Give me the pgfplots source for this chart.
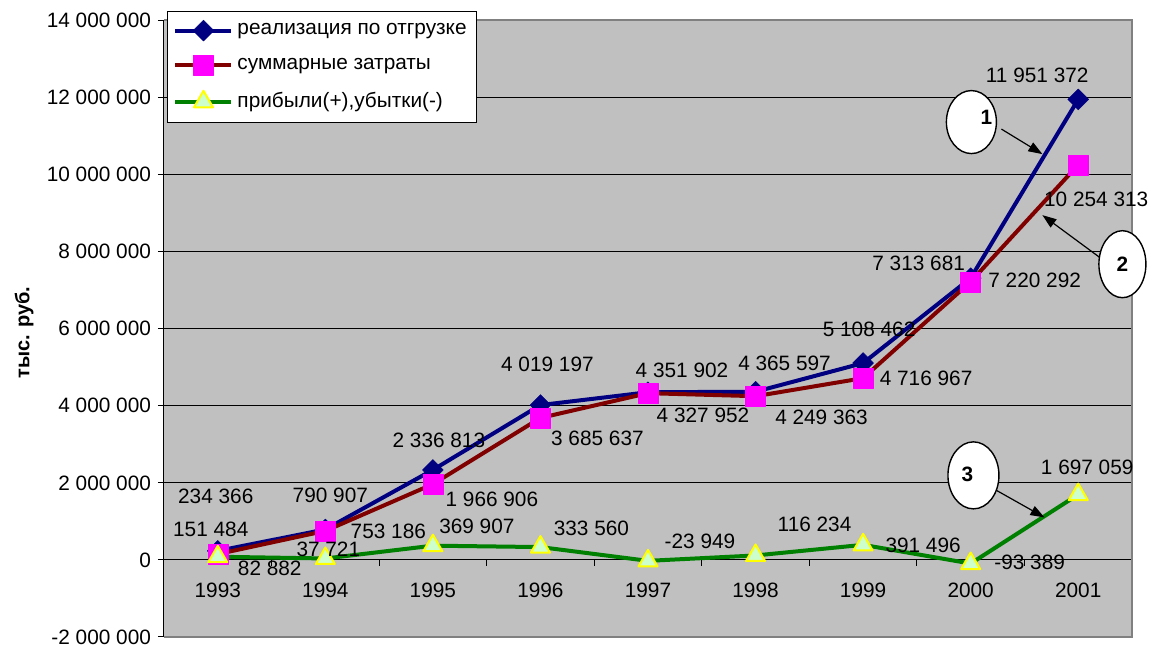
\documentclass[border=0pt]{standalone}
\usepackage{pgfplots}
\usepackage{pgfplotstable}
\pgfplotsset{compat=1.18}
\usepackage{fontspec}
\setmainfont{Liberation Sans}
\usetikzlibrary{arrows.meta}
\definecolor{bggray}{RGB}{192,192,192}
\definecolor{bordergray}{RGB}{128,128,128}
\definecolor{navyc}{RGB}{0,0,128}
\definecolor{darkredc}{RGB}{128,0,0}
\definecolor{magentac}{RGB}{255,0,255}
\definecolor{greenc}{RGB}{0,128,0}
\definecolor{lightgreenc}{RGB}{204,255,204}
\definecolor{yellowc}{RGB}{255,255,0}
\newcommand\myfont{\fontsize{10.4}{12.5}\selectfont}

\pgfplotstableread[col sep=comma]{
x,y,lbl,dx,dy
0,234366,234 366,-1,27.5
1,790907,790 907,2.5,17
2,2336813,2 336 813,3,14.75
3,4019197,4 019 197,3.5,20.5
4,4351902,4 351 902,17,11
5,4365597,4 365 597,14.5,14
6,5108462,5 108 462,3,17
7,7313681,7 313 681,-26,7.5
8,11951372,11 951 372,-20.5,12
}\realiz

\pgfplotstableread[col sep=comma]{
x,y,lbl,dx,dy
0,151484,151 484,-3.5,12.5
1,753186,753 186,31.5,0
2,1966906,1 966 906,29.5,-7.5
3,3685637,3 685 637,28.5,-10
4,4327952,4 327 952,27.5,-11
5,4249363,4 249 363,33,-10.5
6,4716967,4 716 967,31.5,0
7,7220292,7 220 292,32,0.5
8,10254313,10 254 313,9,-17.5
}\zatraty

\pgfplotstableread[col sep=comma]{
x,y,lbl,dx,dy
0,82882,82 882,26,-6
1,37721,37 721,1.5,4.5
2,369907,369 907,22,9.5
3,333560,333 560,25.5,9.5
4,-23949,-23 949,26,10
5,116234,116 234,29.5,15.5
6,391496,391 496,30,0
7,-93389,-93 389,29.5,0.5
8,1697059,1 697 059,4.5,13.5
}\pribyl

\begin{document}
\begin{tikzpicture}
\begin{axis}[
  at={(0pt,0pt)}, anchor=south west,
  scale only axis, width=484pt, height=308.25pt,
  xmin=-0.5, xmax=8.5, ymin=-2000000, ymax=14000000,
  clip=false,
  axis background/.style={fill=bggray},
  axis x line*=middle, axis y line*=left,
  hide obscured x ticks=false, hide obscured y ticks=false,
  axis line style={black, line width=0.5pt},
  xtick={0,1,2,3,4,5,6,7,8},
  xticklabels={1993,1994,1995,1996,1997,1998,1999,2000,2001},
  x tick style={draw=none},
  xticklabel style={anchor=north, yshift=-5pt},
  ytick={-2000000,0,2000000,4000000,6000000,8000000,10000000,12000000,14000000},
  yticklabels={-2 000 000,0,2 000 000,4 000 000,6 000 000,8 000 000,10 000 000,12 000 000,14 000 000},
  y tick style={black, line width=0.5pt},
  tick align=outside, major tick length=3pt,
  ymajorgrids, grid style={black, line width=0.5pt},
  tick label style={font=\myfont},
  scaled y ticks=false,
  ylabel={тыс. руб.},
  every axis y label/.style={at={(axis description cs:-0.1446,0.4935)}, rotate=90, anchor=center, font=\fontsize{10}{12}\selectfont\bfseries},
  legend style={at={(axis description cs:0.0031,1.0154)}, anchor=north west, draw=black, line width=0.5pt, fill=white, font=\myfont, row sep=6.2pt, inner xsep=3pt, inner ysep=4pt, cells={anchor=west}},
  legend image code/.code={\draw[mark repeat=2,mark phase=2,#1] plot coordinates {(0pt,0pt) (14pt,0pt) (28pt,0pt)};},
  nodes near coords, point meta=explicit symbolic,
  visualization depends on={\thisrow{dx} \as \dx},
  visualization depends on={\thisrow{dy} \as \dy},
  every node near coord/.append style={anchor=center, xshift=\dx pt, yshift=\dy pt, font=\myfont, text=black},
]
\addplot[navyc, line width=2pt, line join=round, mark=square*, mark size=3.7pt, mark options={rotate=45, fill=navyc, draw=navyc, line width=0.2pt}]
  table[x=x, y=y, meta=lbl] {\realiz};
\addlegendentry{реализация по отгрузке}
\addplot[darkredc, line width=2pt, line join=round, mark=square*, mark size=5pt, mark options={fill=magentac, draw=magentac, line width=0.2pt}]
  table[x=x, y=y, meta=lbl] {\zatraty};
\addlegendentry{суммарные затраты}
\addplot[greenc, line width=2pt, line join=round, mark=triangle*, mark size=5.5pt, mark options={fill=lightgreenc, draw=yellowc, line width=1pt}]
  table[x=x, y=y, meta=lbl] {\pribyl};
\addlegendentry{прибыли(+),убытки(-)}

\pgfplotsinvokeforeach{-0.5,0.5,1.5,2.5,3.5,4.5,5.5,6.5,7.5,8.5}{
  \draw[black, line width=0.5pt] (axis cs:#1,0) -- ++(0pt,-3.2pt);
}
\draw[bordergray, line width=1pt] (rel axis cs:0,0) -- (rel axis cs:1,0) -- (rel axis cs:1,1) -- (rel axis cs:0,1);

% callouts
\draw[black, line width=0.6pt, -{Triangle[length=7pt,width=5pt]}] (axis cs:7.286,11181800) -- (axis cs:7.667,10532500);
\draw[black, line width=0.7pt, fill=white] (axis cs:7.007,11363600) ellipse [x radius=12.5pt, y radius=15.75pt];
\node[font=\fontsize{10.4}{12}\selectfont\bfseries] at (axis cs:7.007,11363600) [xshift=7.5pt, yshift=2.5pt] {1};

\draw[black, line width=0.6pt, -{Triangle[length=7pt,width=5pt]}] (axis cs:8.197,7857100) -- (axis cs:7.667,8948000);
\draw[black, line width=0.7pt, fill=white] (axis cs:8.411,7675300) ellipse [x radius=11.75pt, y radius=16.75pt];
\node[font=\fontsize{10.4}{12}\selectfont\bfseries] at (axis cs:8.411,7675300) {2};

\draw[black, line width=0.6pt, -{Triangle[length=7pt,width=5pt]}] (axis cs:7.240,1805200) -- (axis cs:7.686,1103900);
\draw[black, line width=0.7pt, fill=white] (axis cs:7.026,2194800) ellipse [x radius=12.75pt, y radius=16.75pt];
\node[font=\fontsize{10.4}{12}\selectfont\bfseries] at (axis cs:7.026,2194800) [xshift=-3pt, yshift=0.5pt] {3};
\end{axis}
\pgfresetboundingbox
\path (-82pt,-4.5pt) rectangle (496.5pt,318.5pt);
\end{tikzpicture}
\end{document}
